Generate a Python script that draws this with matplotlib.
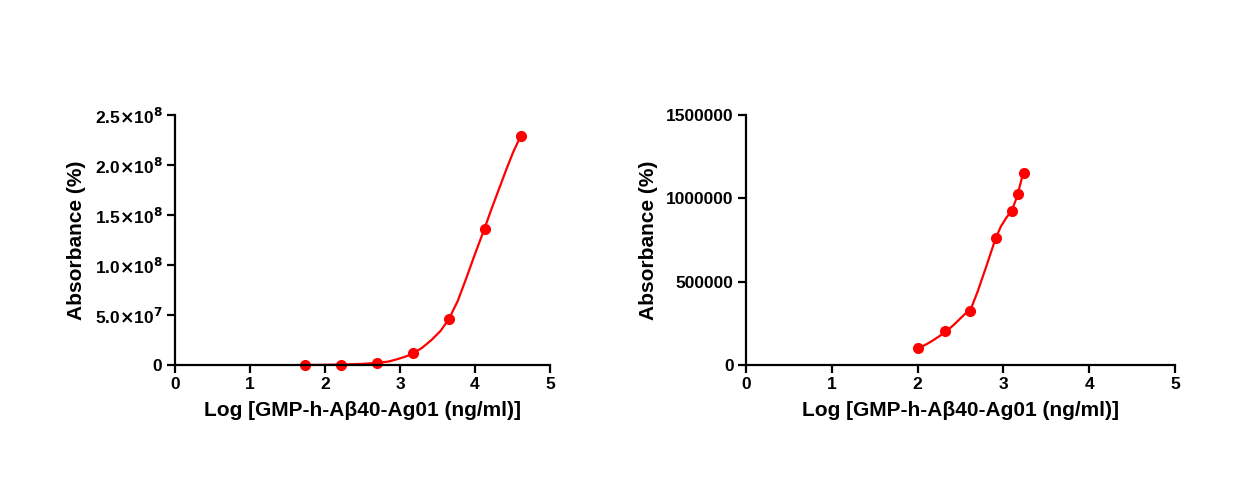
import numpy as np
import matplotlib.pyplot as plt
from matplotlib.ticker import FixedLocator

plt.rcParams["font.family"] = ["Liberation Sans", "DejaVu Sans"]
plt.rcParams["font.weight"] = "bold"
plt.rcParams["mathtext.default"] = "bf"

# --- Data ----------------------------------------------------------------
left_x = [1.74, 2.22, 2.70, 3.18, 3.66, 4.13, 4.61]
left_y = [0.0, 0.002e8, 0.023e8, 0.12e8, 0.46e8, 1.36e8, 2.29e8]
left_fit_x = [1.74, 2.0, 2.3, 2.5, 2.73, 2.85, 2.95, 3.06, 3.18, 3.30,
              3.42, 3.54, 3.65, 3.77, 3.89, 4.0, 4.12, 4.22, 4.33, 4.42,
              4.51, 4.61]
left_fit_y = [0.0, 0.002e8, 0.006e8, 0.011e8, 0.023e8, 0.035e8, 0.055e8,
              0.08e8, 0.117e8, 0.175e8, 0.25e8, 0.34e8, 0.457e8, 0.64e8,
              0.88e8, 1.11e8, 1.35e8, 1.56e8, 1.78e8, 1.96e8, 2.13e8,
              2.29e8]

right_x = [2.01, 2.32, 2.61, 2.91, 3.10, 3.17, 3.24]
right_y = [104000, 203000, 325000, 760000, 925000, 1023000, 1151000]
right_fit_x = [2.01, 2.08, 2.15, 2.24, 2.33, 2.42, 2.50, 2.57, 2.62, 2.70,
               2.80, 2.91, 2.97, 3.03, 3.10, 3.16, 3.20, 3.23]
right_fit_y = [100000, 118000, 138000, 168000, 200000, 240000, 280000,
               315000, 335000, 440000, 590000, 760000, 830000, 880000,
               930000, 1010000, 1090000, 1150000]

left_yticks = [0, 0.5e8, 1.0e8, 1.5e8, 2.0e8, 2.5e8]
left_ylabels = ["0", r"5.0$\times$10$^{7}$", r"1.0$\times$10$^{8}$",
                r"1.5$\times$10$^{8}$", r"2.0$\times$10$^{8}$",
                r"2.5$\times$10$^{8}$"]
right_yticks = [0, 500000, 1000000, 1500000]
right_ylabels = ["0", "500000", "1000000", "1500000"]
xticks = [0, 1, 2, 3, 4, 5]

xlabel = "Log [GMP-h-Aβ40-Ag01 (ng/ml)]"
ylabel = "Absorbance (%)"
red = "#ff0000"

# --- Plot -----------------------------------------------------------------
fig = plt.figure(figsize=(12.39, 4.86), dpi=100)
ax1 = fig.add_axes([0.1412, 0.249, 0.3027, 0.5144])
ax2 = fig.add_axes([0.6021, 0.249, 0.3462, 0.5144])

panels = [
    (ax1, left_x, left_y, left_fit_x, left_fit_y, left_yticks, left_ylabels, 2.5e8),
    (ax2, right_x, right_y, right_fit_x, right_fit_y, right_yticks, right_ylabels, 1.5e6),
]
for ax, x, y, fx, fy, yt, yl, ymax in panels:
    ax.plot(fx, fy, color=red, lw=1.6, clip_on=False, solid_joinstyle="round")
    ax.plot(x, y, "o", color=red, ms=7, clip_on=False)
    ax.set_xlim(0, 5)
    ax.set_ylim(0, ymax)
    ax.xaxis.set_major_locator(FixedLocator(xticks))
    ax.set_xticklabels([str(t) for t in xticks])
    ax.set_yticks(yt)
    ax.set_yticklabels(yl)
    ax.spines["top"].set_visible(False)
    ax.spines["right"].set_visible(False)
    for s in ("left", "bottom"):
        ax.spines[s].set_linewidth(1.6)
    ax.tick_params(width=1.6, length=6, labelsize=12.5, pad=3)
    ax.set_xlabel(xlabel, fontsize=15, fontweight="bold", labelpad=6)
    ax.set_ylabel(ylabel, fontsize=15, fontweight="bold", labelpad=6)

fig.savefig("out.png", dpi=100)
